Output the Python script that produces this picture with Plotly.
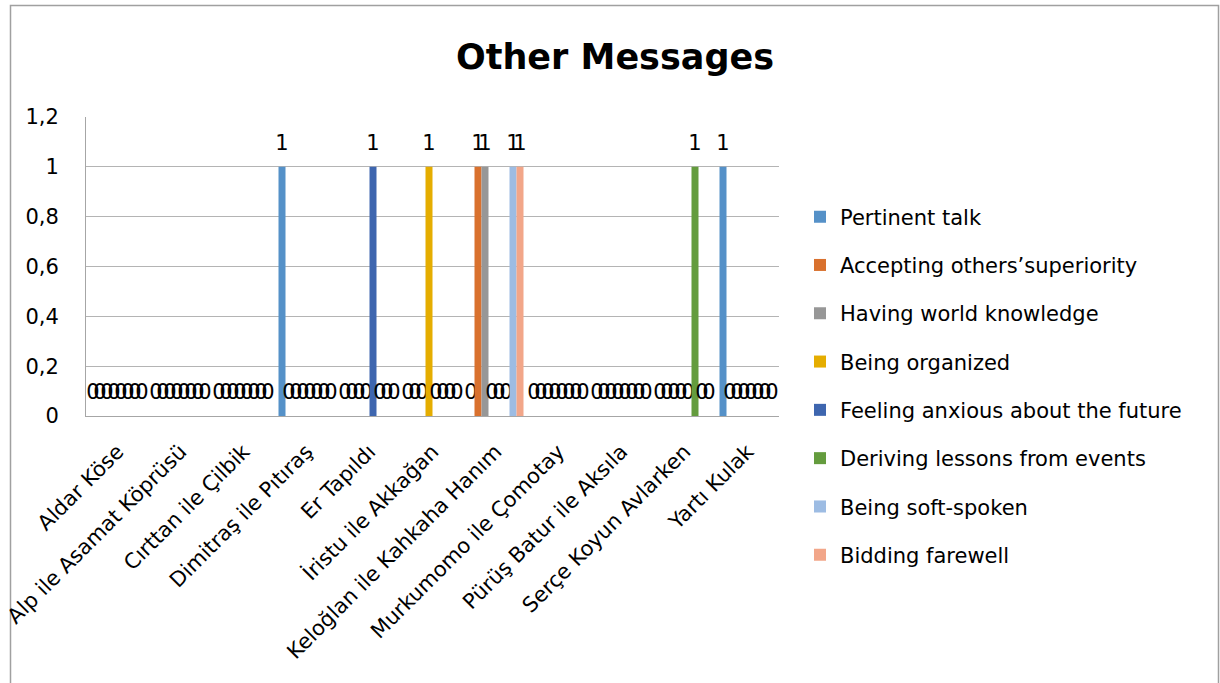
import plotly.graph_objects as go

# Stories (categories on the x axis)
stories = [
    "Aldar Köse",
    "Alp ile Asamat Köprüsü",
    "Cırttan ile Çilbik",
    "Dimitraş ile Pıtıraş",
    "Er Tapıldı",
    "İristu ile Akkağan",
    "Keloğlan ile Kahkaha Hanım",
    "Murkumomo ile Çomotay",
    "Pürüş Batur ile Aksıla",
    "Serçe Koyun Avlarken",
    "Yartı Kulak",
]

# One list of counts per message type, in story order
pertinent_talk = [0, 0, 0, 1, 0, 0, 0, 0, 0, 0, 1]
accepting_superiority = [0, 0, 0, 0, 0, 0, 1, 0, 0, 0, 0]
world_knowledge = [0, 0, 0, 0, 0, 0, 1, 0, 0, 0, 0]
being_organized = [0, 0, 0, 0, 0, 1, 0, 0, 0, 0, 0]
anxious_future = [0, 0, 0, 0, 1, 0, 0, 0, 0, 0, 0]
deriving_lessons = [0, 0, 0, 0, 0, 0, 0, 0, 0, 1, 0]
soft_spoken = [0, 0, 0, 0, 0, 0, 1, 0, 0, 0, 0]
bidding_farewell = [0, 0, 0, 0, 0, 0, 1, 0, 0, 0, 0]

series_names = [
    "Pertinent talk",
    "Accepting others\u2019superiority",
    "Having world knowledge",
    "Being organized",
    "Feeling anxious about the future",
    "Deriving lessons from events",
    "Being soft-spoken",
    "Bidding farewell",
]
series_values = [
    pertinent_talk,
    accepting_superiority,
    world_knowledge,
    being_organized,
    anxious_future,
    deriving_lessons,
    soft_spoken,
    bidding_farewell,
]
series_colors = [
    "#5591C8", "#D9712E", "#979797", "#E5AD00",
    "#3E66AF", "#649C3E", "#9DBCE3", "#F2A689",
]

FONT = "DejaVu Sans"
TXT = 21

fig = go.Figure()
for name, vals, color in zip(series_names, series_values, series_colors):
    fig.add_trace(go.Bar(
        x=stories,
        y=vals,
        name=name,
        legendgroup=name,
        marker=dict(color=color, line=dict(width=0)),
        # value label sits one short line above the bar end
        texttemplate=f"<span style='font-size:{TXT}px'>%{{y}}</span><br>"
                     "<span style='font-size:1px'>\u00a0</span>",
        textposition="outside",
        textangle=0,
        constraintext="none",
        cliponaxis=False,
        textfont=dict(family=FONT, size=11, color="#000000"),
        hoverinfo="x+y+name",
    ))

fig.update_layout(
    width=1220,
    height=683,
    barmode="group",
    bargap=0.111,
    bargroupgap=0,
    separators=", ",
    paper_bgcolor="#FFFFFF",
    plot_bgcolor="#FFFFFF",
    font=dict(family=FONT, size=TXT, color="#000000"),
    margin=dict(l=86, r=441, t=117, b=267, autoexpand=False),
    title=dict(
        text="<b>Other Messages</b>",
        font=dict(family=FONT, size=35, color="#000000"),
        x=615 / 1220,
        xanchor="center",
        y=1 - 57 / 683,
        yanchor="middle",
    ),
    xaxis=dict(
        type="category",
        tickangle=-45,
        showgrid=False,
        showline=True,
        linecolor="#A6A6A6",
        linewidth=1,
        ticks="",
        ticklabelstandoff=14,
        tickfont=dict(family=FONT, size=TXT, color="#000000"),
        automargin=False,
    ),
    yaxis=dict(
        range=[0, 1.2],
        dtick=0.2,
        tick0=0,
        showgrid=True,
        gridcolor="#B4B4B4",
        gridwidth=1,
        showline=True,
        linecolor="#A6A6A6",
        linewidth=1,
        zeroline=False,
        ticks="",
        ticklabelstandoff=22,
        tickfont=dict(family=FONT, size=TXT, color="#000000"),
        automargin=False,
    ),
    legend=dict(
        x=1.0 + (800 - 779) / 693,
        xanchor="left",
        y=(416 - 386) / 299,
        yanchor="middle",
        maxheight=683,
        tracegroupgap=18,
        font=dict(family=FONT, size=TXT, color="#000000"),
        bgcolor="rgba(0,0,0,0)",
        itemclick=False,
    ),
    showlegend=True,
    shapes=[
        # outer chart frame
        dict(
            type="rect",
            xref="paper", yref="paper",
            x0=(10.5 - 86) / 693, x1=(1218.5 - 86) / 693,
            y0=-1.0, y1=(416 - 5.5) / 299,
            line=dict(color="#A0A0A0", width=1.5),
            fillcolor="rgba(0,0,0,0)",
            layer="below",
        )
    ],
)

fig.write_html("out.html")
